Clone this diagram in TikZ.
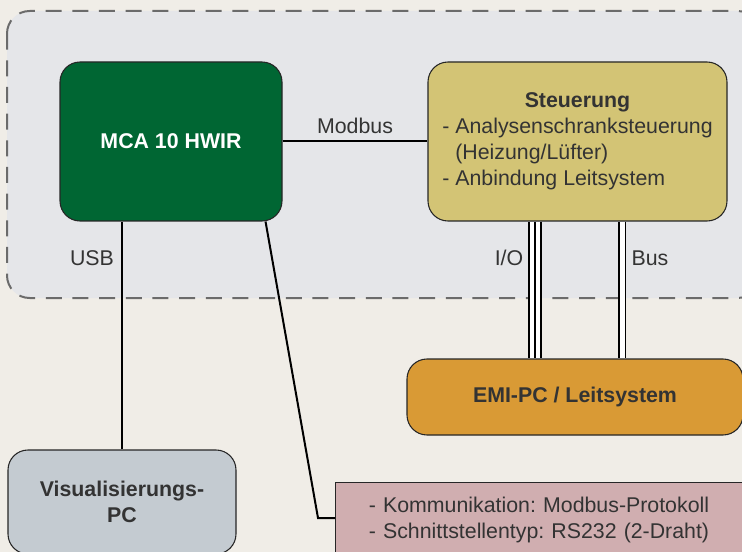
\documentclass[tikz,border=0pt]{standalone}
\usepackage{fontspec}
\setmainfont{Liberation Sans}
\frenchspacing
\definecolor{bgbeige}{HTML}{F0EDE7}
\definecolor{areagray}{HTML}{E5E6E9}
\definecolor{mcagreen}{HTML}{006633}
\definecolor{steuyellow}{HTML}{D3C475}
\definecolor{visugray}{HTML}{C4CBD1}
\definecolor{emiorange}{HTML}{D99A35}
\definecolor{kompink}{HTML}{D0AEB0}
\definecolor{txtgray}{HTML}{333333}
\begin{document}
\begin{tikzpicture}[x=0.75pt,y=-0.75pt,
  box/.style={draw=black!85,line width=0.8pt,rounded corners=15pt,text=txtgray,
    font=\fontsize{16pt}{19.5pt}\selectfont\bfseries,align=center},
  wire/.style={line width=1.5pt},
  dbl/.style={line width=1.1pt,double=white},
  lbl/.style={text=txtgray,font=\fontsize{16pt}{19.5pt}\selectfont}]
  \useasboundingbox (0,0) rectangle (742,552);
  \clip (0,0) rectangle (742,552);
  \fill[bgbeige] (0,0) rectangle (742,552);
  \draw[fill=areagray,draw=black!58,line width=1.5pt,dash pattern=on 12pt off 8pt,rounded corners=17pt]
    (7,11) rectangle (760,298);
  % boxes
  \node[box,fill=mcagreen,text=white,minimum width=166.5pt,minimum height=119.25pt] (mca) at (171,141.5) {MCA 10 HWIR};
  \node[box,fill=steuyellow,minimum width=224.25pt,minimum height=119.25pt] (steu) at (577.5,141.5)
    {\begin{tabular}{@{}l@{}}\multicolumn{1}{@{}c@{}}{Steuerung}\\
     \mdseries - Analysenschranksteuerung\\
     \mdseries \phantom{- }(Heizung/Lüfter)\\
     \mdseries - Anbindung Leitsystem\end{tabular}};
  \node[box,fill=visugray,minimum width=171pt,minimum height=78pt] (visu) at (122,502) {Visualisierungs-\\PC};
  \node[box,fill=emiorange,minimum width=252pt,minimum height=57pt] (emi) at (575,397) {EMI-PC / Leitsystem};
  \node[draw=black!85,line width=0.8pt,fill=kompink,lbl,anchor=north west,align=left,text width=330pt,
    inner xsep=25pt,inner ysep=11pt,text depth=40pt] (kom) at (335,482)
    {- Kommunikation: Modbus-Protokoll\\- Schnittstellentyp: RS232 (2-Draht)};
  % connections
  \coordinate (bend) at (318,518);
  \coordinate (io) at (535,0);
  \coordinate (bus) at (622.3,0);
  \draw[wire] (mca.east) -- (steu.west);
  \draw[wire] (visu.north) -- (visu.north |- mca.south);
  \draw[wire] ([xshift=-12.75pt]mca.south east) -- (bend) -- (kom.west |- bend);
  \draw[dbl,double distance=7.9pt] (steu.south -| io) -- (emi.north -| io);
  \draw[line width=1.1pt] (steu.south -| io) -- (emi.north -| io);
  \draw[dbl,double distance=3.9pt] (steu.south -| bus) -- (emi.north -| bus);
  % labels
  \node[lbl] (modbus) at (355,126) {Modbus};
  \node[lbl] (usb) at (92,258) {USB};
  \node[lbl] (iolbl) at (509,258) {I/O};
  \node[lbl] (buslbl) at (650,258) {Bus};
\end{tikzpicture}
\end{document}
